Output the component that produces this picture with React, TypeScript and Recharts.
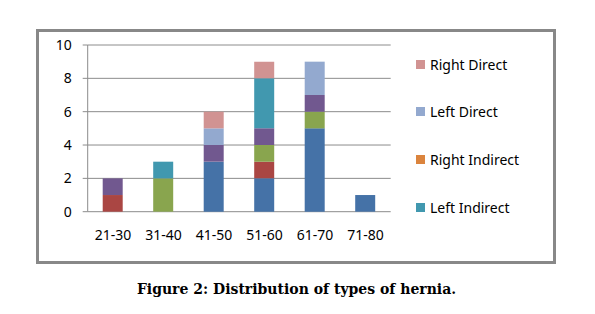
import React from 'react';
import { BarChart, Bar, XAxis, YAxis, CartesianGrid } from 'recharts';

const categories = ['21-30', '31-40', '41-50', '51-60', '61-70', '71-80'];
const seriesNames = ['Series 1', 'Series 2', 'Series 3', 'Series 4', 'Left Indirect', 'Right Indirect', 'Left Direct', 'Right Direct'];
const seriesColors = ['#4572A7', '#AA4643', '#89A54E', '#71588F', '#4198AF', '#DB843D', '#93A9CF', '#D19392'];
const s1 = [0, 0, 3, 2, 5, 1];
const s2 = [1, 0, 0, 1, 0, 0];
const s3 = [0, 2, 0, 1, 1, 0];
const s4 = [1, 0, 1, 1, 1, 0];
const leftIndirect = [0, 1, 0, 3, 0, 0];
const rightIndirect = [0, 0, 0, 0, 0, 0];
const leftDirect = [0, 0, 1, 0, 2, 0];
const rightDirect = [0, 0, 1, 1, 0, 0];
const seriesValues = [s1, s2, s3, s4, leftIndirect, rightIndirect, leftDirect, rightDirect];
const legendNames = ['Right Direct', 'Left Direct', 'Right Indirect', 'Left Indirect'];
const yTicks = [0, 2, 4, 6, 8, 10];
const boundaryTicks = [0, 1, 2, 3, 4, 5, 6];

const data = categories.map((c, i) => {
  const row: Record<string, string | number> = { cat: c, pos: i + 0.5 };
  seriesNames.forEach((n, k) => {
    row[n] = seriesValues[k][i];
  });
  return row;
});

const FONT = '"Noto Sans", "Open Sans", sans-serif';

const LegendBlock = () => (
  <div style={{ position: 'absolute', left: 416, top: 40.5, width: 140, fontFamily: FONT, fontSize: 14, color: '#000' }}>
    {legendNames.map((n) => {
      const color = seriesColors[seriesNames.indexOf(n)];
      return (
        <div key={n} style={{ height: 47.6, display: 'flex', alignItems: 'center' }}>
          <span style={{ display: 'inline-block', width: 9, height: 9, background: color, marginRight: 5 }} />
          <span>{n}</span>
        </div>
      );
    })}
  </div>
);

export default function App() {
  return (
    <div style={{ position: 'absolute', left: 0, top: 0, width: 595, height: 314, background: '#fff' }}>
      <div
        style={{
          position: 'absolute',
          left: 36,
          top: 29,
          width: 520,
          height: 235,
          border: '3px solid #888',
          boxSizing: 'border-box',
        }}
      />
      <div style={{ position: 'absolute', left: 0, top: 0 }}>
        <BarChart
          width={595}
          height={265}
          data={data}
          margin={{ top: 45, right: 204.3, bottom: 23.3, left: 0 }}
          barSize={20}
        >
          <CartesianGrid xAxisId="cat" vertical={false} stroke="#8c8c8c" />
          <XAxis
            xAxisId="b"
            type="number"
            dataKey="pos"
            domain={[0, 6]}
            ticks={boundaryTicks}
            allowDataOverflow
            height={0}
            axisLine={{ stroke: '#8c8c8c' }}
            tickLine={{ stroke: '#8c8c8c' }}
            tickSize={5}
            tick={() => <g />}
          />
          <XAxis
            xAxisId="cat"
            dataKey="cat"
            height={30}
            axisLine={false}
            tickLine={false}
            tickSize={0}
            tickMargin={18}
            tick={{ fill: '#000', fontSize: 14, fontFamily: FONT }}
            interval={0}
          />
          <YAxis
            width={87.7}
            domain={[0, 10]}
            ticks={yTicks}
            axisLine={{ stroke: '#8c8c8c' }}
            tickLine={{ stroke: '#8c8c8c' }}
            tickSize={5}
            tickMargin={11}
            tick={{ fill: '#000', fontSize: 14, fontFamily: FONT }}
            interval={0}
          />
          {seriesNames.map((n, k) => (
            <Bar
              key={n}
              xAxisId="cat"
              dataKey={n}
              stackId="a"
              fill={seriesColors[k]}
              isAnimationActive={false}
            />
          ))}
        </BarChart>
      </div>
      <LegendBlock />
      <div
        style={{
          position: 'absolute',
          left: 0,
          width: 593,
          top: 281,
          textAlign: 'center',
          fontFamily: '"DejaVu Serif", serif',
          fontWeight: 'bold',
          fontSize: 14,
          color: '#000',
        }}
      >
        Figure 2: Distribution of types of hernia.
      </div>
    </div>
  );
}
